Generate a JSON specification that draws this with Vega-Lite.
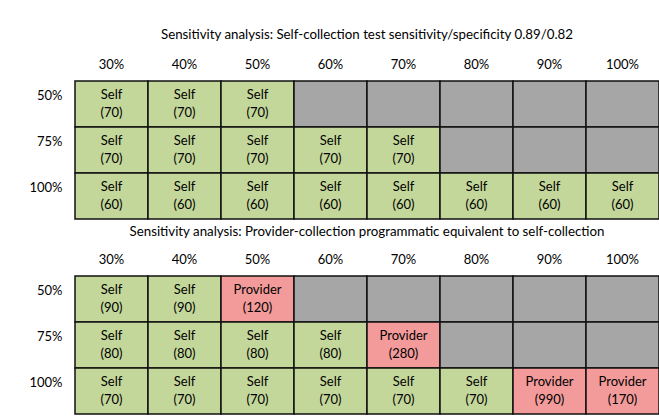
{
  "$schema": "https://vega.github.io/schema/vega-lite/v6.json",
  "autosize": {"type": "pad"},
  "padding": {"left": 28, "top": 27, "right": 0, "bottom": 0},
  "background": "white",
  "config": {
    "view": {"stroke": null},
    "font": "Lato",
    "axis": {"labelFont": "Lato", "labelFontSize": 13, "labelColor": "#000", "domain": false, "ticks": false, "grid": false, "title": null},
    "title": {"font": "Lato", "fontSize": 13.3, "fontWeight": "normal", "color": "#000", "anchor": "middle"}
  },
  "datasets": {
    "cells": [
      {"panel": "A", "row": "50%", "col": "30%", "choice": "Self", "cost": "(70)"},
      {"panel": "A", "row": "50%", "col": "40%", "choice": "Self", "cost": "(70)"},
      {"panel": "A", "row": "50%", "col": "50%", "choice": "Self", "cost": "(70)"},
      {"panel": "A", "row": "50%", "col": "60%", "choice": "NA", "cost": ""},
      {"panel": "A", "row": "50%", "col": "70%", "choice": "NA", "cost": ""},
      {"panel": "A", "row": "50%", "col": "80%", "choice": "NA", "cost": ""},
      {"panel": "A", "row": "50%", "col": "90%", "choice": "NA", "cost": ""},
      {"panel": "A", "row": "50%", "col": "100%", "choice": "NA", "cost": ""},
      {"panel": "A", "row": "75%", "col": "30%", "choice": "Self", "cost": "(70)"},
      {"panel": "A", "row": "75%", "col": "40%", "choice": "Self", "cost": "(70)"},
      {"panel": "A", "row": "75%", "col": "50%", "choice": "Self", "cost": "(70)"},
      {"panel": "A", "row": "75%", "col": "60%", "choice": "Self", "cost": "(70)"},
      {"panel": "A", "row": "75%", "col": "70%", "choice": "Self", "cost": "(70)"},
      {"panel": "A", "row": "75%", "col": "80%", "choice": "NA", "cost": ""},
      {"panel": "A", "row": "75%", "col": "90%", "choice": "NA", "cost": ""},
      {"panel": "A", "row": "75%", "col": "100%", "choice": "NA", "cost": ""},
      {"panel": "A", "row": "100%", "col": "30%", "choice": "Self", "cost": "(60)"},
      {"panel": "A", "row": "100%", "col": "40%", "choice": "Self", "cost": "(60)"},
      {"panel": "A", "row": "100%", "col": "50%", "choice": "Self", "cost": "(60)"},
      {"panel": "A", "row": "100%", "col": "60%", "choice": "Self", "cost": "(60)"},
      {"panel": "A", "row": "100%", "col": "70%", "choice": "Self", "cost": "(60)"},
      {"panel": "A", "row": "100%", "col": "80%", "choice": "Self", "cost": "(60)"},
      {"panel": "A", "row": "100%", "col": "90%", "choice": "Self", "cost": "(60)"},
      {"panel": "A", "row": "100%", "col": "100%", "choice": "Self", "cost": "(60)"},
      {"panel": "B", "row": "50%", "col": "30%", "choice": "Self", "cost": "(90)"},
      {"panel": "B", "row": "50%", "col": "40%", "choice": "Self", "cost": "(90)"},
      {"panel": "B", "row": "50%", "col": "50%", "choice": "Provider", "cost": "(120)"},
      {"panel": "B", "row": "50%", "col": "60%", "choice": "NA", "cost": ""},
      {"panel": "B", "row": "50%", "col": "70%", "choice": "NA", "cost": ""},
      {"panel": "B", "row": "50%", "col": "80%", "choice": "NA", "cost": ""},
      {"panel": "B", "row": "50%", "col": "90%", "choice": "NA", "cost": ""},
      {"panel": "B", "row": "50%", "col": "100%", "choice": "NA", "cost": ""},
      {"panel": "B", "row": "75%", "col": "30%", "choice": "Self", "cost": "(80)"},
      {"panel": "B", "row": "75%", "col": "40%", "choice": "Self", "cost": "(80)"},
      {"panel": "B", "row": "75%", "col": "50%", "choice": "Self", "cost": "(80)"},
      {"panel": "B", "row": "75%", "col": "60%", "choice": "Self", "cost": "(80)"},
      {"panel": "B", "row": "75%", "col": "70%", "choice": "Provider", "cost": "(280)"},
      {"panel": "B", "row": "75%", "col": "80%", "choice": "NA", "cost": ""},
      {"panel": "B", "row": "75%", "col": "90%", "choice": "NA", "cost": ""},
      {"panel": "B", "row": "75%", "col": "100%", "choice": "NA", "cost": ""},
      {"panel": "B", "row": "100%", "col": "30%", "choice": "Self", "cost": "(70)"},
      {"panel": "B", "row": "100%", "col": "40%", "choice": "Self", "cost": "(70)"},
      {"panel": "B", "row": "100%", "col": "50%", "choice": "Self", "cost": "(70)"},
      {"panel": "B", "row": "100%", "col": "60%", "choice": "Self", "cost": "(70)"},
      {"panel": "B", "row": "100%", "col": "70%", "choice": "Self", "cost": "(70)"},
      {"panel": "B", "row": "100%", "col": "80%", "choice": "Self", "cost": "(70)"},
      {"panel": "B", "row": "100%", "col": "90%", "choice": "Provider", "cost": "(990)"},
      {"panel": "B", "row": "100%", "col": "100%", "choice": "Provider", "cost": "(170)"}
    ]
  },
  "bounds": "flush",
  "spacing": 57,
  "vconcat": [
    {
      "title": {"text": "Sensitivity analysis: Self-collection test sensitivity/specificity 0.89/0.82", "offset": 17},
      "width": 584,
      "height": 138,
      "data": {"name": "cells"},
      "transform": [{"filter": "datum.panel === 'A'"}],
      "encoding": {
        "x": {"field": "col", "type": "ordinal", "sort": ["30%", "40%", "50%", "60%", "70%", "80%", "90%", "100%"], "scale": {"paddingInner": 0, "paddingOuter": 0}, "axis": {"orient": "top", "labelAngle": 0, "labelPadding": 10}},
        "y": {"field": "row", "type": "ordinal", "sort": ["50%", "75%", "100%"], "scale": {"paddingInner": 0, "paddingOuter": 0}, "axis": {"labelPadding": 13, "labelOffset": -8}}
      },
      "layer": [
        {"mark": {"type": "rect", "stroke": "#111", "strokeWidth": 1.5},
         "encoding": {"color": {"field": "choice", "type": "nominal", "legend": null, "scale": {"domain": ["Self", "Provider", "NA"], "range": ["#c4d79b", "#f29b9a", "#a6a6a6"]}}}},
        {"transform": [{"filter": "datum.choice !== 'NA'"}], "mark": {"type": "text", "dy": -9, "fontSize": 13, "font": "Lato", "color": "#000"}, "encoding": {"text": {"field": "choice"}}},
        {"transform": [{"filter": "datum.choice !== 'NA'"}], "mark": {"type": "text", "dy": 9, "fontSize": 13, "font": "Lato", "color": "#000"}, "encoding": {"text": {"field": "cost"}}}
      ]
    },
    {
      "title": {"text": "Sensitivity analysis: Provider-collection programmatic equivalent to self-collection", "offset": 15},
      "width": 584,
      "height": 138,
      "data": {"name": "cells"},
      "transform": [{"filter": "datum.panel === 'B'"}],
      "encoding": {
        "x": {"field": "col", "type": "ordinal", "sort": ["30%", "40%", "50%", "60%", "70%", "80%", "90%", "100%"], "scale": {"paddingInner": 0, "paddingOuter": 0}, "axis": {"orient": "top", "labelAngle": 0, "labelPadding": 10}},
        "y": {"field": "row", "type": "ordinal", "sort": ["50%", "75%", "100%"], "scale": {"paddingInner": 0, "paddingOuter": 0}, "axis": {"labelPadding": 13, "labelOffset": -8}}
      },
      "layer": [
        {"mark": {"type": "rect", "stroke": "#111", "strokeWidth": 1.5},
         "encoding": {"color": {"field": "choice", "type": "nominal", "legend": null, "scale": {"domain": ["Self", "Provider", "NA"], "range": ["#c4d79b", "#f29b9a", "#a6a6a6"]}}}},
        {"transform": [{"filter": "datum.choice !== 'NA'"}], "mark": {"type": "text", "dy": -9, "fontSize": 13, "font": "Lato", "color": "#000"}, "encoding": {"text": {"field": "choice"}}},
        {"transform": [{"filter": "datum.choice !== 'NA'"}], "mark": {"type": "text", "dy": 9, "fontSize": 13, "font": "Lato", "color": "#000"}, "encoding": {"text": {"field": "cost"}}}
      ]
    }
  ],
  "resolve": {"scale": {"color": "shared"}}
}
